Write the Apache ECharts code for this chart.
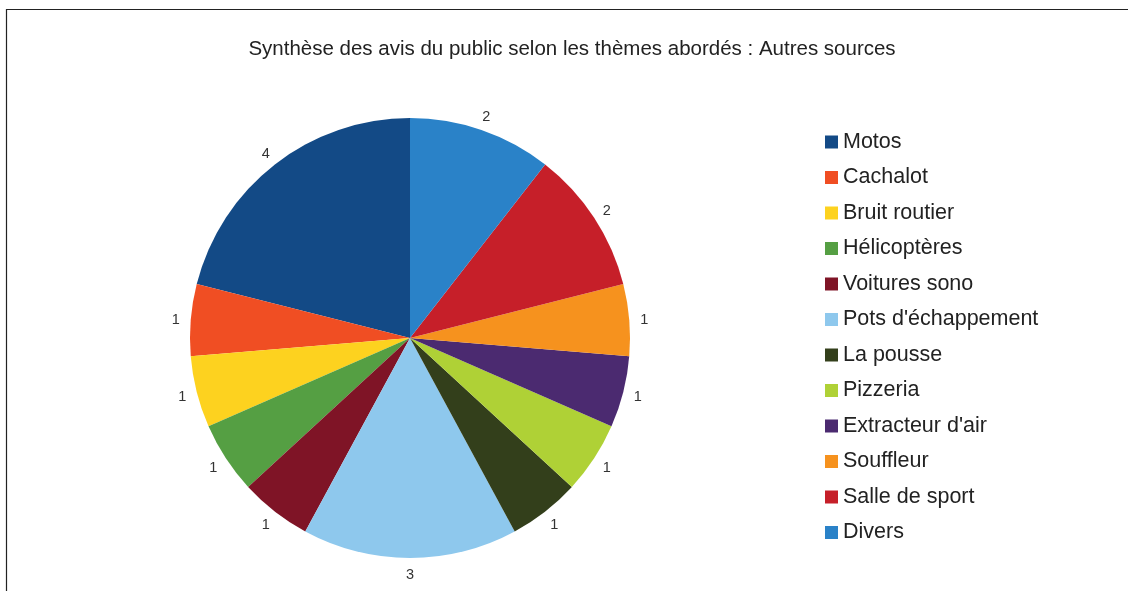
<!DOCTYPE html>
<html>
<head>
<meta charset="utf-8">
<script src="https://cdn.jsdelivr.net/npm/echarts@6/dist/echarts.min.js"></script>
<style>
  html, body { margin: 0; padding: 0; background: #fff; }
  #chart { width: 1128px; height: 591px; }
</style>
</head>
<body>
<div id="chart"></div>
<script>
// themes (counterclockwise from 12 o'clock)
const themes = [
  "Motos", "Cachalot", "Bruit routier", "Hélicoptères", "Voitures sono",
  "Pots d'échappement", "La pousse", "Pizzeria", "Extracteur d'air",
  "Souffleur", "Salle de sport", "Divers"
];
const counts = [4, 1, 1, 1, 1, 3, 1, 1, 1, 1, 2, 2];
const colors = [
  "#134a86", "#f04e23", "#fdd21f", "#559f43", "#7f1426", "#8ec8ed",
  "#333f1b", "#afd136", "#4b2a70", "#f6921e", "#c61f29", "#2a82c8"
];

const pieData = themes.map((name, i) => ({ name: name, value: counts[i] }));

const chart = echarts.init(document.getElementById("chart"));
chart.setOption({
  animation: false,
  color: colors,
  title: {
    text: "Synthèse des avis du public selon les thèmes abordés : Autres sources",
    left: 572,
    textAlign: "center",
    top: 39,
    padding: 0,
    textStyle: {
      fontFamily: "Liberation Sans",
      fontSize: 20.5,
      fontWeight: "normal",
      color: "#222"
    }
  },
  legend: {
    orient: "vertical",
    left: 825,
    top: 131,
    padding: 0,
    itemWidth: 13,
    itemHeight: 13,
    itemGap: 13.5,
    icon: "rect",
    data: themes,
    textStyle: {
      fontFamily: "Liberation Sans",
      fontSize: 21.5,
      color: "#222"
    }
  },
  graphic: [
    {
      type: "polyline",
      shape: { points: [[6.5, 591], [6.5, 9.5], [1128, 9.5]] },
      style: { stroke: "#222", lineWidth: 1.2, fill: null },
      silent: true
    }
  ],
  series: [
    {
      name: "Avis",
      type: "pie",
      center: [410, 338],
      radius: [0, 220],
      startAngle: 90,
      clockwise: false,
      data: pieData,
      itemStyle: { borderWidth: 0 },
      label: { show: false },
      labelLine: { show: false },
      emphasis: { disabled: true }
    },
    {
      // invisible ring only to hold the value labels
      name: "Libellés",
      type: "pie",
      center: [410, 338],
      radius: [223, 241],
      startAngle: 90,
      clockwise: false,
      silent: true,
      data: pieData,
      itemStyle: { color: "rgba(0,0,0,0)", borderWidth: 0 },
      label: {
        show: true,
        position: "inside",
        formatter: "{c}",
        offset: [0, 1.5],
        fontFamily: "Liberation Sans",
        fontSize: 14.5,
        color: "#333"
      },
      labelLine: { show: false },
      emphasis: { disabled: true }
    }
  ]
});
</script>
</body>
</html>
